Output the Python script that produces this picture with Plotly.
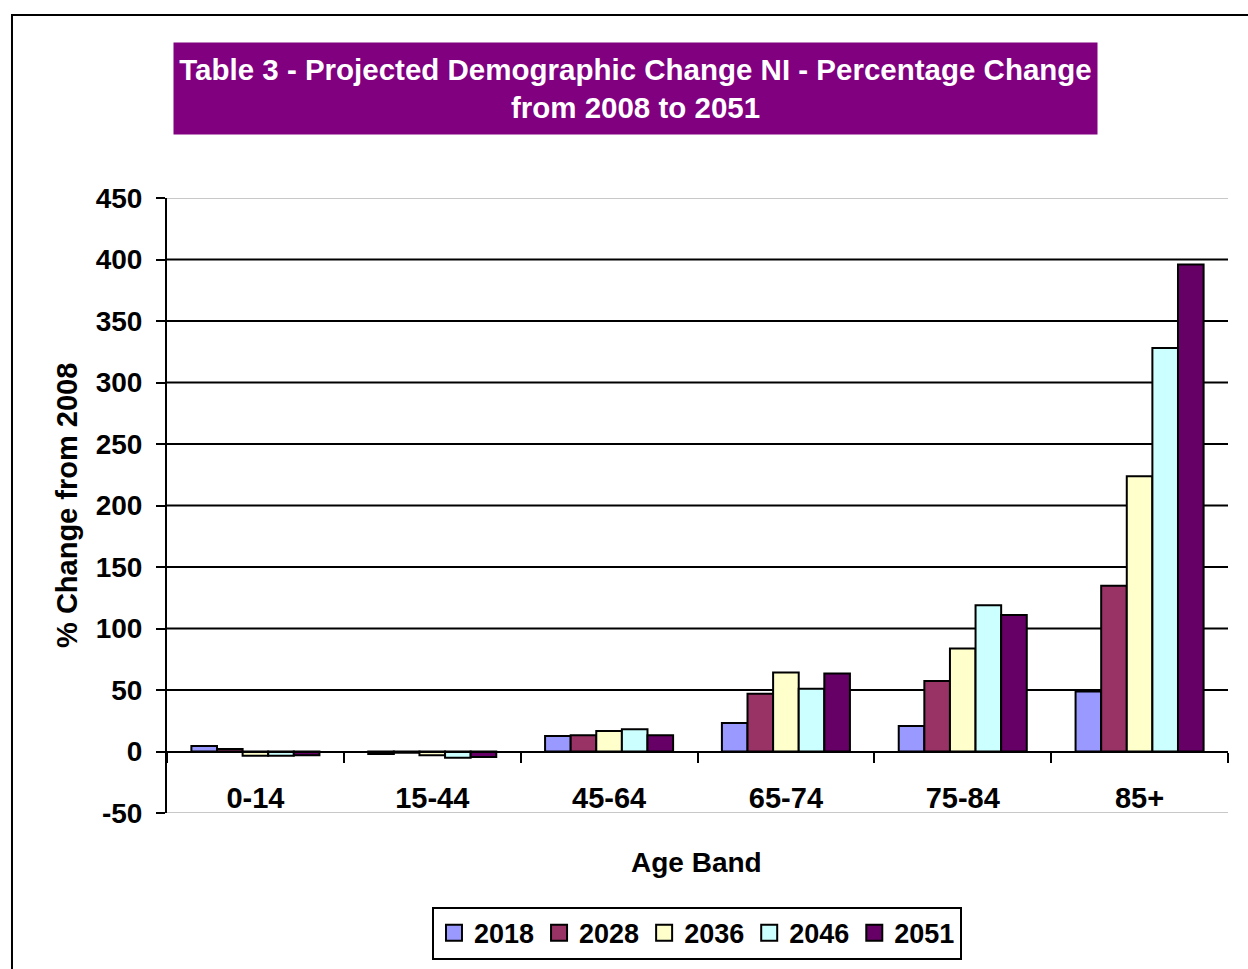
import plotly.graph_objects as go

# Age bands and projected % change from 2008, by projection year
age_bands = ["0-14", "15-44", "45-64", "65-74", "75-84", "85+"]
years = ["2018", "2028", "2036", "2046", "2051"]
change_2018 = [4.5, -2, 12.6, 23.2, 20.8, 48.7]
change_2028 = [2, -1, 13.2, 46.9, 57.4, 134.8]
change_2036 = [-3.4, -3, 16.7, 64.2, 83.7, 223.8]
change_2046 = [-3.4, -5, 18, 51.1, 119, 328]
change_2051 = [-3, -4.5, 13.2, 63.4, 110.9, 396]
series_values = [change_2018, change_2028, change_2036, change_2046, change_2051]
bar_colors = ["#9999FF", "#993366", "#FFFFCC", "#CCFFFF", "#660066"]

y_ticks = list(range(-50, 451, 50))
y_tick_text = [str(v) for v in y_ticks]

FONT = "Liberation Sans, Arial, sans-serif"

fig = go.Figure()
for name, vals, col in zip(years, series_values, bar_colors):
    fig.add_trace(go.Bar(
        x=age_bands, y=vals, name=name, legendgroup=name, showlegend=False,
        marker=dict(color=col, line=dict(color="black", width=2)),
    ))
# legend entries with larger square swatches
for name, col in zip(years, bar_colors):
    fig.add_trace(go.Scatter(
        x=[None], y=[None], mode="markers", name=name, legendgroup=name,
        marker=dict(symbol="square", size=16, color=col, line=dict(color="black", width=2)),
    ))

shapes = []
# black gridlines for the inner ticks
for v in y_ticks:
    if v in (y_ticks[0], y_ticks[-1], 0):
        continue
    shapes.append(dict(type="line", xref="paper", yref="y", x0=0, x1=1, y0=v, y1=v,
                       line=dict(color="black", width=2), layer="below"))
# pale lines at the top and bottom of the value range
for v in (y_ticks[0], y_ticks[-1]):
    shapes.append(dict(type="line", xref="paper", yref="y", x0=0, x1=1, y0=v, y1=v,
                       line=dict(color="#C8C8C8", width=2), layer="below"))
# outer frame of the chart
shapes.append(dict(type="rect", xref="paper", yref="paper",
                   x0=-0.1461, x1=1.2, y0=-0.4, y1=1.2976,
                   line=dict(color="black", width=2), fillcolor="rgba(0,0,0,0)"))

fig.update_layout(
    width=1248, height=969,
    margin=dict(l=167, r=20, t=198, b=156, autoexpand=False),
    paper_bgcolor="white", plot_bgcolor="white",
    barmode="group", bargap=0.276, bargroupgap=0,
    font=dict(family=FONT, size=26, color="black", weight="bold"),
    shapes=shapes,
    showlegend=True,
    legend=dict(
        orientation="h", x=0.4995, xanchor="center", y=-0.1525, yanchor="top",
        bordercolor="black", borderwidth=2, bgcolor="white",
        font=dict(family=FONT, size=27, color="black", weight="bold"),
        traceorder="normal", itemwidth=30, tracegroupgap=0,
    ),
    xaxis=dict(
        type="category", anchor="free", position=0.1,
        showline=True, linecolor="black", linewidth=2,
        ticks="outside", tickson="boundaries", ticklen=10, tickwidth=2, tickcolor="black",
        ticklabelstandoff=21,
        tickfont=dict(family=FONT, size=29, color="black", weight="bold"),
        showgrid=False, zeroline=False,
    ),
    yaxis=dict(
        range=[-50, 450], tickvals=y_ticks, ticktext=y_tick_text,
        showline=True, linecolor="black", linewidth=2,
        ticks="outside", ticklen=9, tickwidth=2, tickcolor="black",
        ticklabelstandoff=8,
        tickfont=dict(family=FONT, size=28, color="black", weight="bold"),
        showgrid=False, zeroline=False,
    ),
    annotations=[
        dict(text="Table 3 - Projected Demographic Change NI - Percentage Change<br>from 2008 to 2051",
             xref="paper", yref="paper", x=0.4416, y=1.178, xanchor="center", yanchor="middle",
             showarrow=False, width=921, height=89, bgcolor="#800080",
             font=dict(family=FONT, size=29.5, color="white", weight="bold")),
        dict(text="% Change from 2008", xref="paper", yref="paper",
             x=-0.0943, y=0.5008, xanchor="center", yanchor="middle", textangle=-90,
             showarrow=False, font=dict(family=FONT, size=29, color="black", weight="bold")),
        dict(text="Age Band", xref="paper", yref="paper",
             x=0.4995, y=-0.0813, xanchor="center", yanchor="middle",
             showarrow=False, font=dict(family=FONT, size=28, color="black", weight="bold")),
    ],
)

fig.write_html("out.html")
